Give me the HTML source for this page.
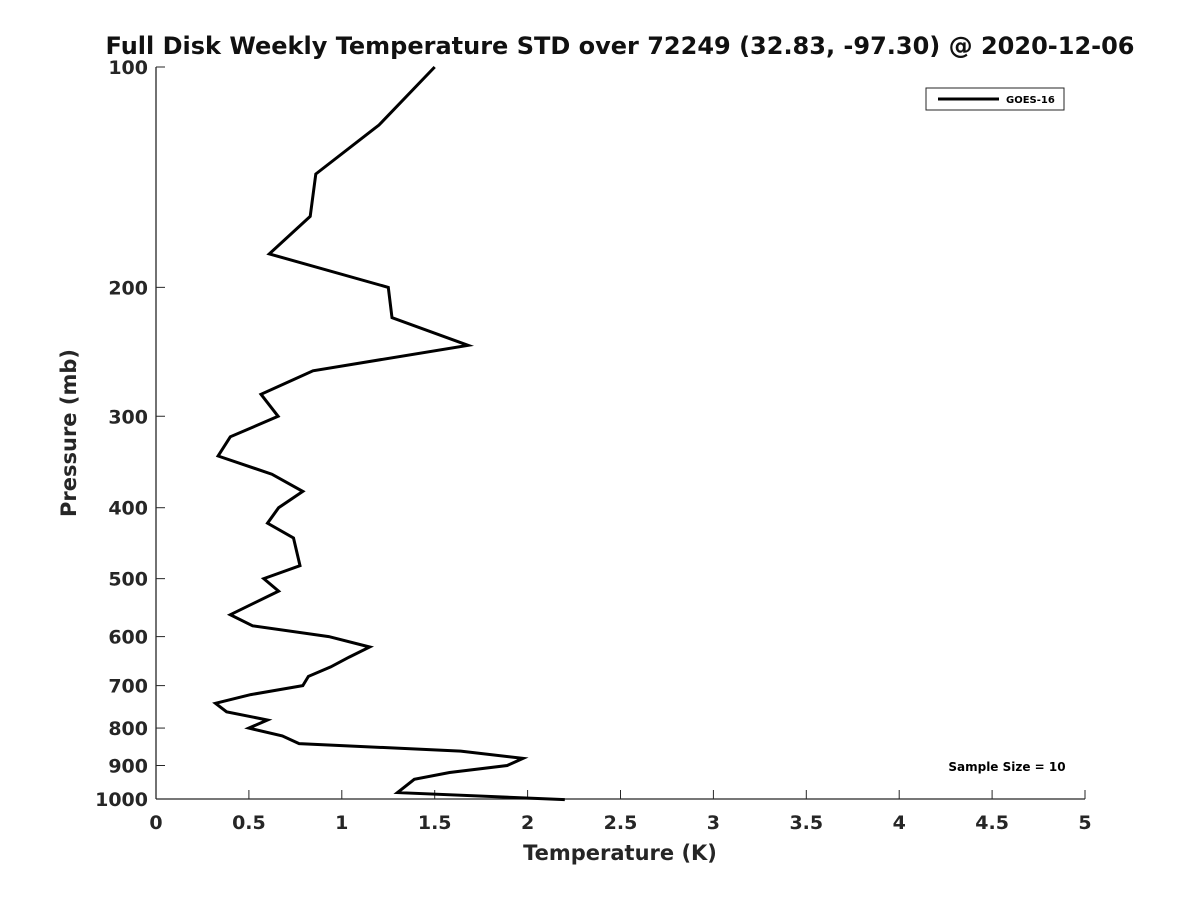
<!DOCTYPE html>
<html><head><meta charset="utf-8"><style>
body{margin:0;background:#fff;}
svg{display:block;font-family:"DejaVu Sans","Liberation Sans",sans-serif;font-weight:bold;}
</style></head><body>
<svg id="chart" width="1200" height="900" viewBox="0 0 1200 900">
<rect width="1200" height="900" fill="#fff"/>
<text x="620" y="54" text-anchor="middle" font-size="24" fill="#111">Full Disk Weekly Temperature STD over 72249 (32.83, -97.30) @ 2020-12-06</text>
<g id="axes"></g>
<text x="620" y="860" text-anchor="middle" font-size="21" fill="#262626">Temperature (K)</text>
<text transform="translate(76,433) rotate(-90)" text-anchor="middle" font-size="21" fill="#262626">Pressure (mb)</text>
<g>
<rect x="926" y="88" width="138" height="22" fill="#fff" stroke="#262626" stroke-width="1"/>
<line x1="938" y1="99" x2="999" y2="99" stroke="#000" stroke-width="3"/>
<text x="1006" y="103" font-size="10" fill="#000">GOES-16</text>
</g>
<text x="1007" y="771" text-anchor="middle" font-size="12" fill="#000">Sample Size = 10</text>
</svg>
<script>
const temps=[1.5,1.2,0.86,0.83,0.61,1.25,1.27,1.68,0.845,0.565,0.657,0.40,0.334,0.624,0.79,0.66,0.60,0.74,0.775,0.58,0.66,0.40,0.52,0.93,1.15,1.04,0.94,0.82,0.79,0.51,0.32,0.38,0.60,0.50,0.68,0.77,1.64,1.975,1.89,1.58,1.39,1.30,2.20];
const pressures=[100,120,140,160,180,200,220,240,260,280,300,320,340,360,380,400,420,440,480,500,520,560,580,600,620,640,660,680,700,720,740,760,780,800,820,840,860,880,900,920,940,980,1002];
const xTicks=[0,0.5,1,1.5,2,2.5,3,3.5,4,4.5,5];
const xTickLabels=["0","0.5","1","1.5","2","2.5","3","3.5","4","4.5","5"];
const yTicks=[100,200,300,400,500,600,700,800,900,1000];
const NS="http://www.w3.org/2000/svg";
const X0=156,X1=1085,Y0=67,Y1=799;
const xs=v=>X0+(v-0)/(5-0)*(X1-X0);
const ys=p=>Y0+Math.log10(p/100)*(Y1-Y0);
const svg=document.getElementById('chart');
const ax=document.getElementById('axes');
function mk(t,a,parent){const e=document.createElementNS(NS,t);for(const k in a)e.setAttribute(k,a[k]);(parent||ax).appendChild(e);return e;}
const xa=mk('line',{x1:X0,y1:Y1,x2:X1,y2:Y1,stroke:'#262626','stroke-width':1.3});


const ya=mk('line',{x1:X0,y1:Y0,x2:X0,y2:Y1,stroke:'#262626','stroke-width':1.3});


xTicks.forEach((v,i)=>{
  const x=xs(v);
  const t=mk('line',{x1:x,y1:Y1,x2:x,y2:Y1-9,stroke:'#262626','stroke-width':1});
  
  
  const l=mk('text',{x:x,y:Y1+30,'text-anchor':'middle','font-size':19,fill:'#262626'});
  l.textContent=xTickLabels[i];
  
  
});
yTicks.forEach(p=>{
  const y=ys(p);
  const t=mk('line',{x1:X0,y1:y,x2:X0+9,y2:y,stroke:'#262626','stroke-width':1});
  
  
  const l=mk('text',{x:X0-8,y:y+7,'text-anchor':'end','font-size':19,fill:'#262626'});
  l.textContent=String(p);
  
  
});
const pts=temps.map((t,i)=>xs(t).toFixed(1)+','+ys(pressures[i]).toFixed(1)).join(' ');
const line=mk('polyline',{points:pts,fill:'none',stroke:'#000','stroke-width':3,'stroke-linejoin':'miter'});


</script>
</body></html>
